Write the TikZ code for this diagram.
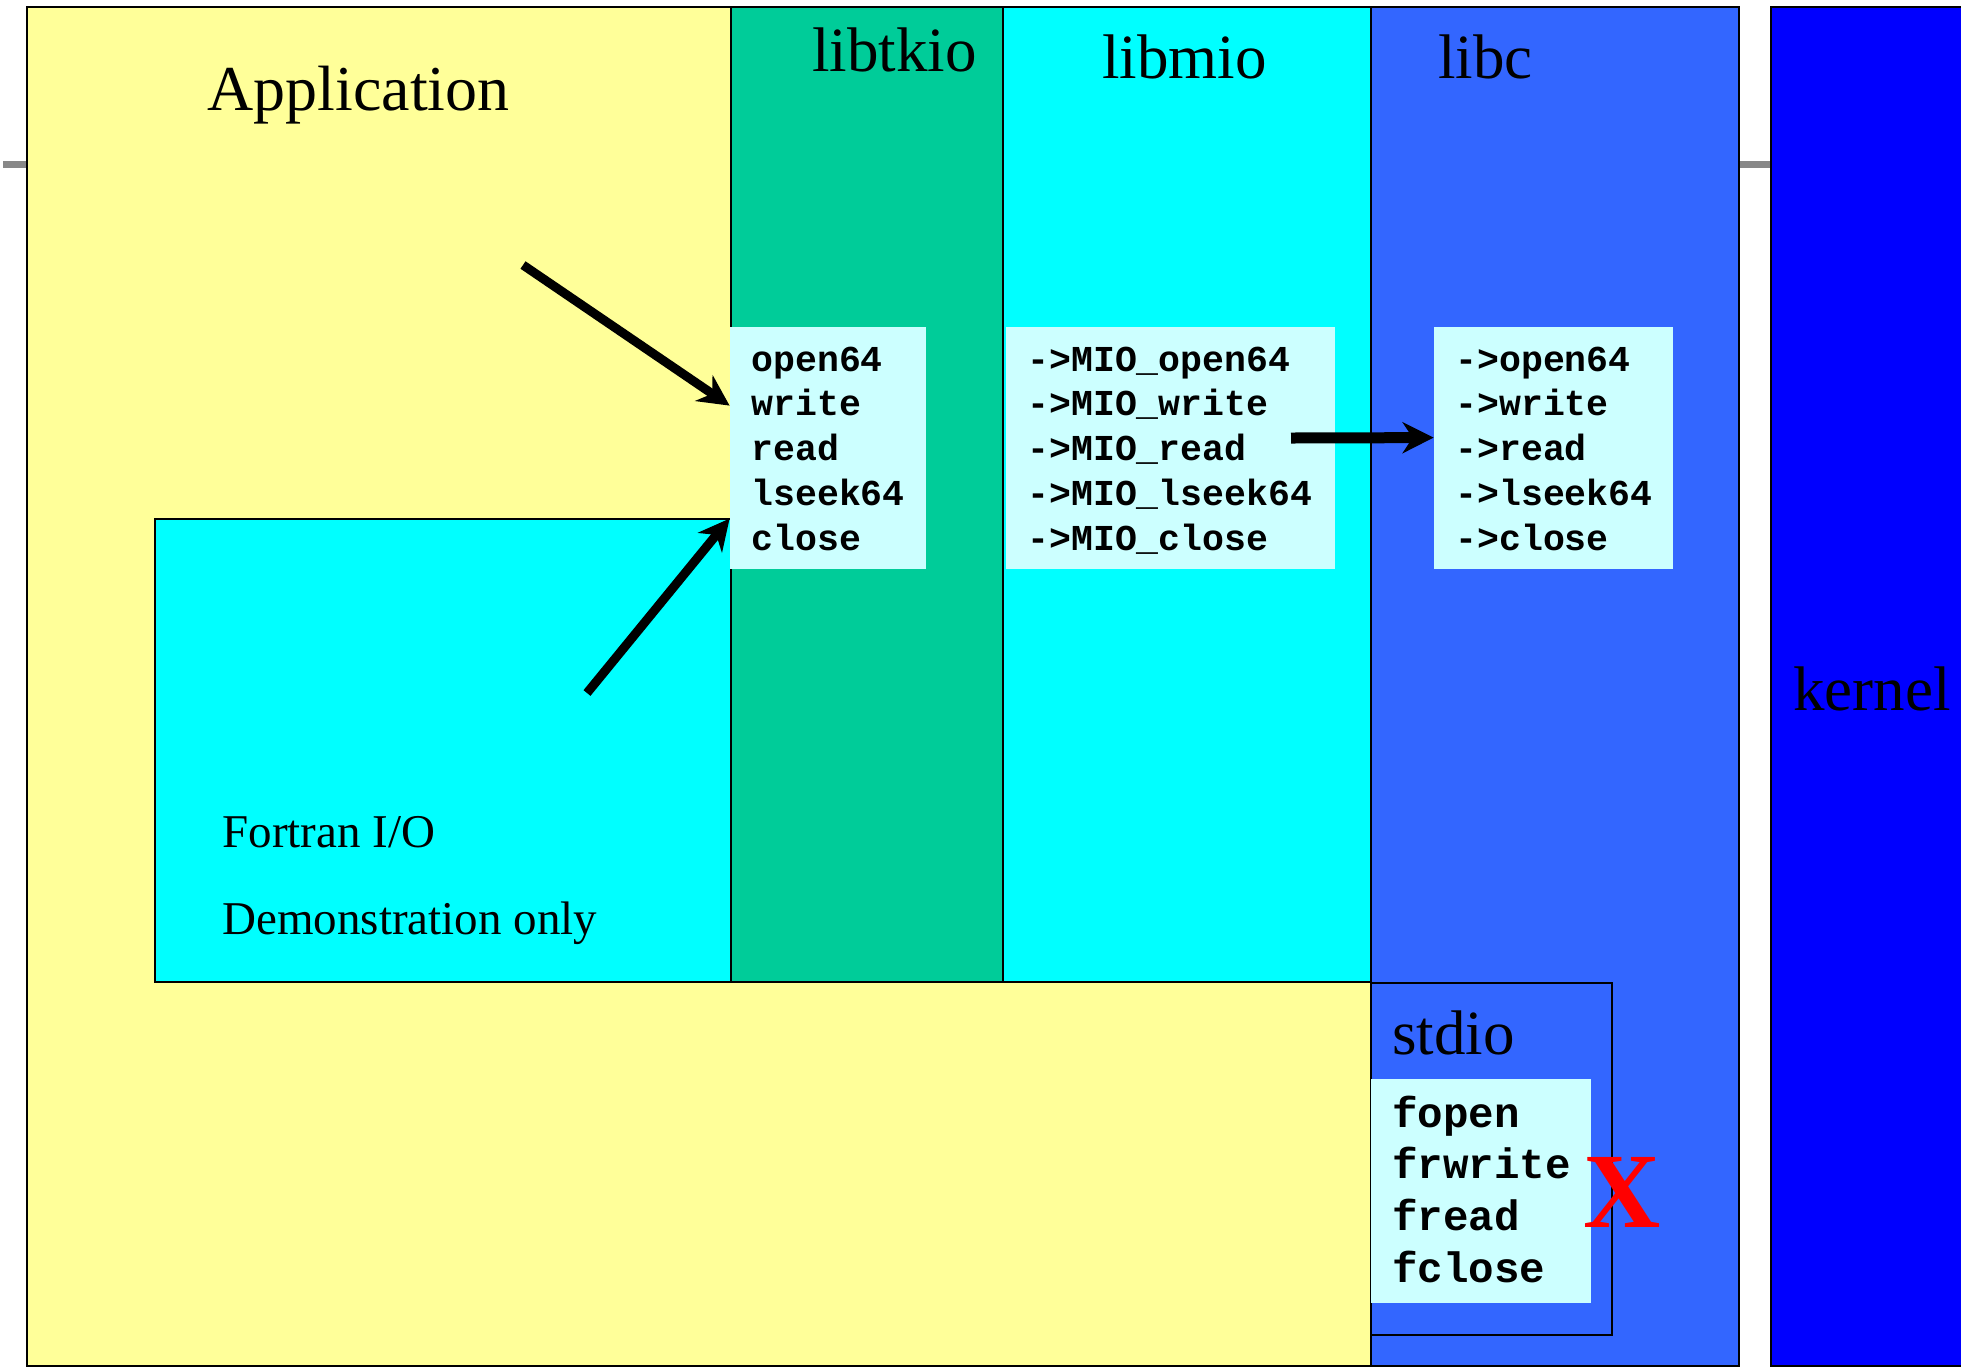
\documentclass[tikz,border=0pt]{standalone}
\usepackage{fontspec}
\setmainfont{Liberation Serif}
\newfontfamily\codefont{Liberation Mono}
\usetikzlibrary{arrows.meta,fit}

\definecolor{appyellow}{HTML}{FFFF99}
\definecolor{tkgreen}{HTML}{00CC99}
\definecolor{miocyan}{HTML}{00FFFF}
\definecolor{libcblue}{HTML}{3366FF}
\definecolor{kernblue}{HTML}{0000FF}
\definecolor{codebg}{HTML}{CCFFFF}
\definecolor{linkgray}{HTML}{888888}

\begin{document}
\begin{tikzpicture}[x=0.5pt,y=-0.5pt,
  panel/.style={draw=black, line width=1pt, inner sep=0pt},
  codebox/.style={fill=codebg, inner sep=0pt},
  title/.style={inner sep=0pt, anchor=base west, font=\fontsize{31.5pt}{36pt}\selectfont},
  note/.style={inner sep=0pt, anchor=base west, font=\fontsize{23.5pt}{28pt}\selectfont},
  code/.style={inner sep=0pt, anchor=base west, font=\codefont\bfseries\fontsize{18.25pt}{22pt}\selectfont},
  bigcode/.style={inner sep=0pt, anchor=base west, font=\codefont\bfseries\fontsize{21.25pt}{26pt}\selectfont},
  call/.style={line width=5pt, -{Stealth[length=15.5pt,width=15.5pt,inset=5pt]}},
]
\useasboundingbox (0,0) rectangle (1961,1367);

% gray link running behind the layers
\coordinate (gl) at (3,164);
\coordinate (gr) at (1771,164);
\draw[line width=3.5pt, linkgray] (gl) -- (gr);

% layer panels
\node[panel, fill=appyellow, fit={(27,7) (1371,1366)}] (app) {};
\node[panel, fill=tkgreen,   fit={(731,7) (1003,982)}] (tkio) {};
\node[panel, fill=miocyan,   fit={(1003,7) (1371,982)}] (mio) {};
\node[panel, fill=libcblue,  fit={(1371,7) (1739,1366)}] (libc) {};
\node[panel, fill=kernblue,  fit={(1771,7) (1995,1366)}] (kernel) {};
\node[panel, fill=miocyan,   fit={(155,519) (731,982)}] (fortran) {};
\node[panel, fill=libcblue,  fit={(1371,983) (1612,1335)}] (stdio) {};

% call tables
\node[codebox, fit={(730,327) (926,569)}] (tkbox) {};
\node[codebox, fit={(1006,327) (1335,569)}] (miobox) {};
\node[codebox, fit={(1434,327) (1673,569)}] (cbox) {};
\node[codebox, fit={(1371,1079) (1591,1303)}] (sbox) {};

% panel titles
\node[title, font=\fontsize{32pt}{36pt}\selectfont] (tapp) at (207,110) {Application};
\node[title] (ttk) at (812,71) {libtkio};
\node[title] (tmio) at (1102,78) {libmio};
\node[title] (tlibc) at (1438,78) {libc};
\node[title] (tkern) at (1793,710) {kernel};
\node[title] (tstdio) at (1392,1054) {stdio};
\node[note] (tfort) at (222,847) {Fortran I/O};
\node[note] (tdemo) at (222,934) {Demonstration only};

% entry points
\foreach \t [count=\i from 0] in {open64,write,read,lseek64,close}
  \node[code] (tk\i) at (751,{371+44.8*\i}) {\t};
\foreach \t [count=\i from 0] in {{->MIO\_open64},{->MIO\_write},{->MIO\_read},{->MIO\_lseek64},{->MIO\_close}}
  \node[code] (mi\i) at (1027,{371+44.8*\i}) {\t};
\foreach \t [count=\i from 0] in {{->open64},{->write},{->read},{->lseek64},{->close}}
  \node[code] (lc\i) at (1455,{371+44.8*\i}) {\t};
\foreach \t [count=\i from 0] in {fopen,frwrite,fread,fclose}
  \node[bigcode] (sd\i) at (1392,{1127+51.8*\i}) {\t};

% stdio path not used
\node[inner sep=0pt, text=red, font=\bfseries\fontsize{53.5pt}{60pt}\selectfont] (nox) at (1622,1192) {X};

% calls
\coordinate (c1) at (523,265);
\coordinate (c2) at (587,693);
\coordinate (c3) at (1291,438);
\draw[call, line width=4.5pt] (c1) -- ([yshift=-39.5pt]tkbox.north west);
\draw[call, line width=4.5pt] (c2) -- ([yshift=-96pt]tkbox.north west);
\draw[call, line width=5.5pt] (c3) -- ([yshift=-55.5pt]cbox.north west);
\end{tikzpicture}
\end{document}
